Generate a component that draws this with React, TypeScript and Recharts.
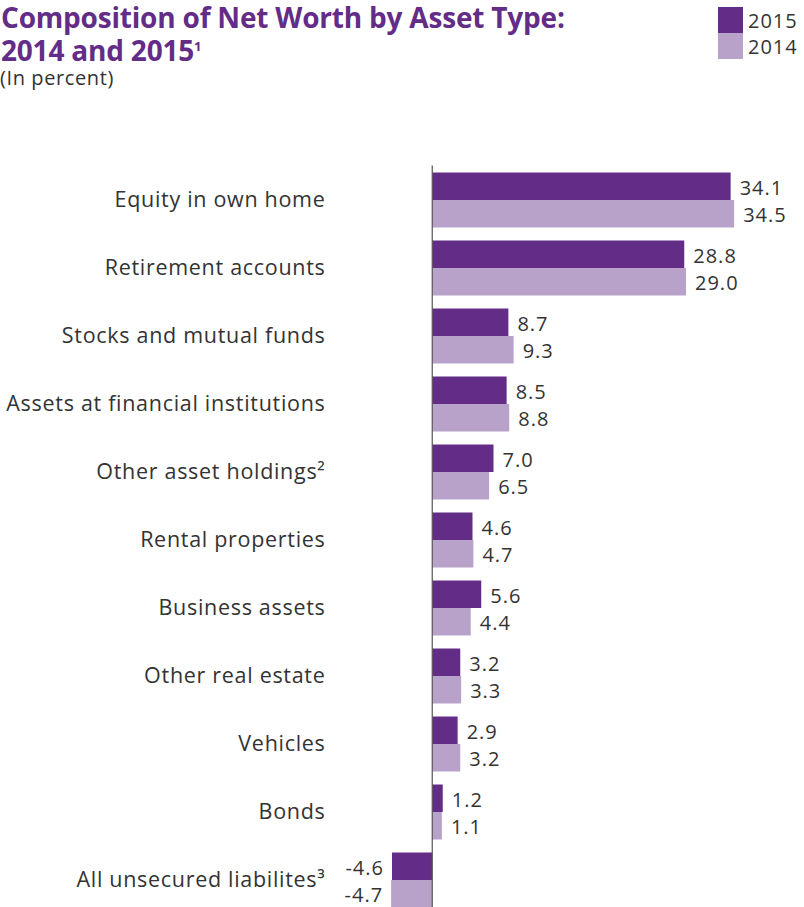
import React from "react";
import { Bar, BarChart, LabelList, ReferenceLine, XAxis, YAxis } from "recharts";

const categories = [
  "Equity in own home",
  "Retirement accounts",
  "Stocks and mutual funds",
  "Assets at financial institutions",
  "Other asset holdings²",
  "Rental properties",
  "Business assets",
  "Other real estate",
  "Vehicles",
  "Bonds",
  "All unsecured liabilites³",
];
const values2015 = [34.1, 28.8, 8.7, 8.5, 7.0, 4.6, 5.6, 3.2, 2.9, 1.2, -4.6];
const values2014 = [34.5, 29.0, 9.3, 8.8, 6.5, 4.7, 4.4, 3.3, 3.2, 1.1, -4.7];
const legendItems = [
  { key: "2015", color: "#632c87" },
  { key: "2014", color: "#b8a2ca" },
];

const C2015 = "#632c87";
const C2014 = "#b8a2ca";
const FONT = "'Open Sans', sans-serif";
const TEXT = "#333333";

const data = categories.map((name, i) => ({ name, y2015: values2015[i], y2014: values2014[i] }));

const ValueLabel = (props: any) => {
  const { x, y, width, height, value } = props;
  const left = Math.min(x, x + width);
  const right = Math.max(x, x + width);
  const neg = value < 0;
  return (
    <text
      x={neg ? left - 8 : right + 9}
      y={y + height / 2 + 1}
      textAnchor={neg ? "end" : "start"}
      dominantBaseline="central"
      fontSize={20}
      letterSpacing={1}
      fontFamily={FONT}
      fill={TEXT}
    >
      {value.toFixed(1)}
    </text>
  );
};

export default function App() {
  return (
    <div style={{ position: "relative", width: 804, height: 907, overflow: "hidden" }}>
      <style>{`html, body { margin: 0; padding: 0; overflow: hidden; }`}</style>
      <div style={{ position: "absolute", left: 1, top: 1, fontFamily: FONT, color: C2015, fontWeight: 700, fontSize: 28, lineHeight: "33px", letterSpacing: -0.2, whiteSpace: "nowrap" }}>
        Composition of Net Worth by Asset Type:
        <br />
        2014 and 2015<sup style={{ fontSize: 13, verticalAlign: "top", lineHeight: "24px" }}>1</sup>
      </div>
      <div style={{ position: "absolute", left: 0, top: 64, fontFamily: FONT, color: TEXT, fontSize: 20, letterSpacing: 0.6 }}>
        (In percent)
      </div>
      <div style={{ position: "absolute", left: 718, top: 7, fontFamily: FONT, fontSize: 20, color: TEXT, letterSpacing: 1 }}>
        {legendItems.map((d) => (
          <div key={d.key} style={{ display: "flex", alignItems: "center", height: 26 }}>
            <span style={{ width: 25, height: 26, background: d.color, display: "inline-block", marginRight: 5 }} />
            <span>{d.key}</span>
          </div>
        ))}
      </div>
      <BarChart
        width={804}
        height={920}
        data={data}
        layout="vertical"
        margin={{ top: 165.5, right: 65.5, bottom: 6.5, left: 0 }}
        barGap={0}
        barCategoryGap={6.5}
        style={{ position: "absolute", left: 0, top: 0 }}
      >
        <XAxis type="number" domain={[-5, 35]} hide />
        <YAxis
          type="category"
          dataKey="name"
          width={388.5}
          axisLine={false}
          tickLine={false}
          tickSize={0}
          tickMargin={63}
          interval={0}
          tick={{ fontSize: 21.5, fontFamily: FONT, fill: TEXT, letterSpacing: 0.7 }}
        />
        <Bar dataKey="y2015" name="2015" fill={C2015} barSize={27.5} isAnimationActive={false}>
          <LabelList dataKey="y2015" content={ValueLabel} />
        </Bar>
        <Bar dataKey="y2014" name="2014" fill={C2014} barSize={27.5} isAnimationActive={false}>
          <LabelList dataKey="y2014" content={ValueLabel} />
        </Bar>
        <ReferenceLine x={0} stroke="#555555" strokeWidth={1.2} />
      </BarChart>
    </div>
  );
}
